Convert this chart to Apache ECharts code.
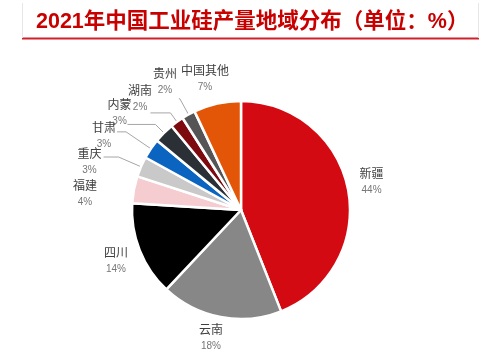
<!DOCTYPE html>
<html>
<head>
<meta charset="utf-8">
<script src="https://cdn.jsdelivr.net/npm/echarts@6/dist/echarts.min.js"></script>
<style>
html,body{margin:0;padding:0;background:#fff;}
#chart{width:485px;height:358px;}
</style>
</head>
<body>
<div id="chart"></div>
<script>
// ---- data ----
const titleText = '2021年中国工业硅产量地域分布（单位：%）';
const categories = ['新疆', '云南', '四川', '福建', '重庆', '甘肃', '内蒙', '湖南', '贵州', '中国其他'];
const shares = [44, 18, 14, 4, 3, 3, 3, 2, 2, 7];

// ---- styles ----
const sliceColors = ['#D40A12', '#878787', '#000000', '#F5CDD0', '#C9C9C9', '#0A64C0', '#2B3036', '#7C0A0E', '#555555', '#E35507'];
const showLeader = [false, false, false, false, true, true, true, true, true, false];
const leaderLen = [[1, 1], [1, 1], [1, 1], [1, 1], [24.4, 15], [30, 9], [12, 28], [11, 20], [18, 1], [1, 1]];
const labelShift = [[21.5, -7.4], [-8.4, 20], [-21.8, 10.5], [-47, 4.6], [-14.1, 5], [-13.1, 4.2], [-7.9, -11.4], [-10.4, -13.9], [-13.8, -16.7], [-11, -23.6]];

const chart = echarts.init(document.getElementById('chart'), null, {renderer: 'canvas'});
const fontFam = '"Liberation Sans", "Noto Sans CJK SC", sans-serif';

chart.setOption({
  animation: false,
  backgroundColor: '#ffffff',
  title: {
    text: titleText,
    left: 36,
    top: 11,
    padding: 0,
    textStyle: {fontSize: 21.5, fontWeight: 'bold', color: '#C80000', fontFamily: fontFam, lineHeight: 22}
  },
  graphic: [
    {type: 'line', shape: {x1: 22, y1: 38.5, x2: 479, y2: 38.5}, style: {stroke: '#D0202A', lineWidth: 2}, silent: true},
    {type: 'line', shape: {x1: 22.5, y1: 3, x2: 22.5, y2: 38}, style: {stroke: '#E6E6E6', lineWidth: 1}, silent: true},
    {type: 'line', shape: {x1: 478.5, y1: 3, x2: 478.5, y2: 38}, style: {stroke: '#E6E6E6', lineWidth: 1}, silent: true}
  ],
  series: [{
    type: 'pie',
    center: [241, 210],
    radius: 109,
    startAngle: 90,
    clockwise: true,
    avoidLabelOverlap: false,
    silent: true,
    emphasis: {disabled: true},
    itemStyle: {borderColor: '#ffffff', borderWidth: 2.5},
    label: {
      show: true,
      position: 'outside',
      formatter: '{n|{b}}\n{v|{c}%}',
      rich: {
        n: {fontSize: 12, color: '#404040', lineHeight: 16, fontFamily: fontFam},
        v: {fontSize: 10, color: '#767676', lineHeight: 14, fontFamily: fontFam}
      }
    },
    labelLine: {show: true, length: 1, length2: 1, lineStyle: {color: '#A6A6A6', width: 1}},
    labelLayout: function (params) {
      const i = params.dataIndex;
      const pts = params.labelLinePoints;
      if (!pts) return {};
      const end = pts[pts.length - 1];
      return {
        x: end[0] + labelShift[i][0],
        y: end[1] + labelShift[i][1],
        align: 'center',
        verticalAlign: 'middle',
        labelLinePoints: pts
      };
    },
    data: categories.map(function (name, i) {
      return {
        name: name,
        value: shares[i],
        itemStyle: {color: sliceColors[i]},
        labelLine: {
          length: leaderLen[i][0],
          length2: leaderLen[i][1],
          lineStyle: {opacity: showLeader[i] ? 1 : 0}
        }
      };
    })
  }]
});
</script>
</body>
</html>
